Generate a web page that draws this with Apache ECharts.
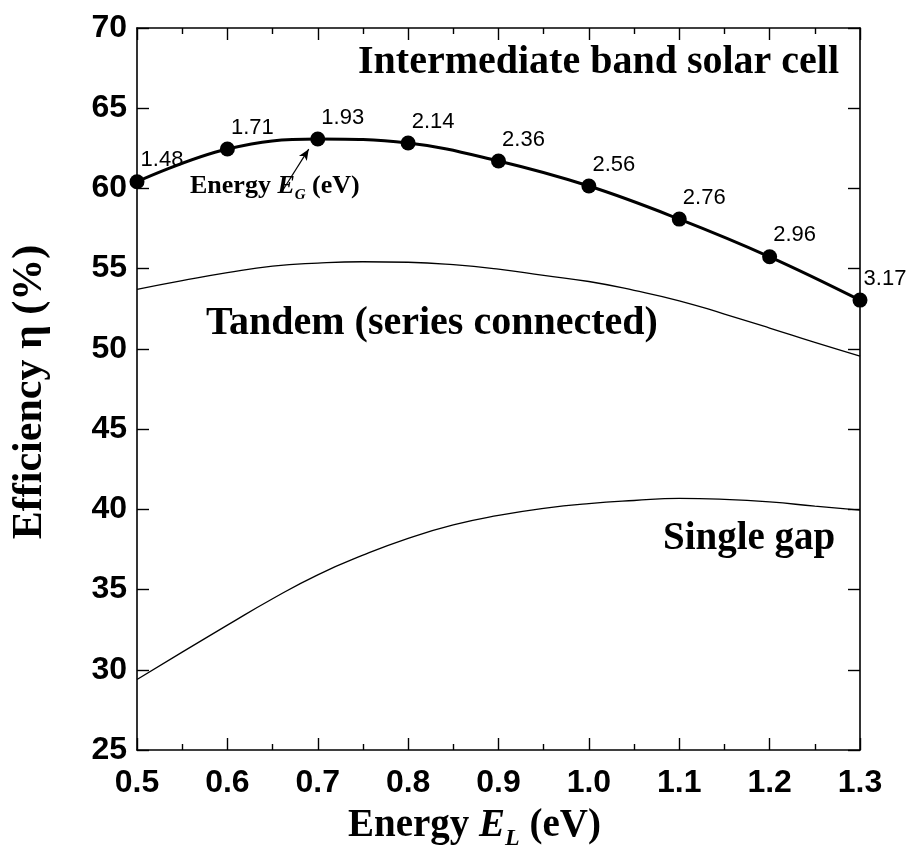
<!DOCTYPE html>
<html>
<head>
<meta charset="utf-8">
<script src="https://cdn.jsdelivr.net/npm/echarts@6/dist/echarts.min.js"></script>
<style>
  html, body { margin: 0; padding: 0; background: #fff; }
  #chart { width: 906px; height: 858px; }
</style>
</head>
<body>
<div id="chart"></div>
<script>
// Intermediate band cell: limiting efficiency vs. the lower transition energy E_L
const ibEnergy = [0.5, 0.6, 0.7, 0.8, 0.9, 1.0, 1.1, 1.2, 1.3];
const ibEfficiency = [60.42, 62.46, 63.08, 62.83, 61.71, 60.15, 58.09, 55.74, 53.04];
// Total band gap E_G (eV) at each point
const ibGapLabels = ['1.48', '1.71', '1.93', '2.14', '2.36', '2.56', '2.76', '2.96', '3.17'];

// Reference curves sampled every 0.05 eV
const curveEnergy = [0.5, 0.55, 0.6, 0.65, 0.7, 0.75, 0.8, 0.85, 0.9, 0.95, 1.0, 1.05, 1.1, 1.15, 1.2, 1.25, 1.3];
const tandemEfficiency = [53.71, 54.25, 54.75, 55.16, 55.35, 55.43, 55.40, 55.25, 54.97, 54.58, 54.2, 53.65, 53.0, 52.17, 51.3, 50.4, 49.55];
const singleGapEfficiency = [29.39, 31.1, 32.78, 34.43, 35.92, 37.14, 38.19, 39.03, 39.62, 40.06, 40.36, 40.55, 40.68, 40.62, 40.46, 40.2, 39.95];

const xTicks = { min: 0.5, max: 1.3, step: 0.1 };
const yTicks = { min: 25, max: 70, step: 5 };

const zip = (xs, ys) => xs.map((x, i) => [x, ys[i]]);

const serif = '"Liberation Serif", "Times New Roman", serif';
const sans = '"Liberation Sans", Arial, sans-serif';

const chart = echarts.init(document.getElementById('chart'), null, { renderer: 'canvas' });

const axisLine = { show: true, lineStyle: { color: '#000', width: 1.6 } };
const majorTick = { show: true, inside: true, length: 12, lineStyle: { color: '#000', width: 1.4 } };
const minorTick = { show: true, splitNumber: 2, length: 6, lineStyle: { color: '#000', width: 1.4 } };

chart.setOption({
  backgroundColor: '#fff',
  animation: false,
  grid: { left: 137, right: 46, top: 28, bottom: 108, containLabel: false },
  xAxis: [
    {
      type: 'value', min: xTicks.min, max: xTicks.max, interval: xTicks.step,
      axisLine: axisLine, axisTick: majorTick, minorTick: minorTick,
      splitLine: { show: false },
      axisLabel: {
        margin: 17, color: '#000', fontFamily: sans, fontWeight: 'bold', fontSize: 32,
        formatter: v => v.toFixed(1)
      }
    },
    {
      type: 'value', position: 'top', min: xTicks.min, max: xTicks.max, interval: xTicks.step,
      axisLine: axisLine, axisTick: majorTick, minorTick: minorTick,
      splitLine: { show: false },
      axisLabel: { show: false }
    }
  ],
  yAxis: [
    {
      type: 'value', min: yTicks.min, max: yTicks.max, interval: yTicks.step,
      axisLine: axisLine, axisTick: majorTick,
      splitLine: { show: false },
      axisLabel: { margin: 10, color: '#000', fontFamily: sans, fontWeight: 'bold', fontSize: 32 }
    },
    {
      type: 'value', position: 'right', min: yTicks.min, max: yTicks.max, interval: yTicks.step,
      axisLine: axisLine, axisTick: majorTick,
      splitLine: { show: false },
      axisLabel: { show: false }
    }
  ],
  series: [
    {
      name: 'Single gap', type: 'line', smooth: 0.5, showSymbol: false, clip: false,
      data: zip(curveEnergy, singleGapEfficiency),
      lineStyle: { color: '#000', width: 1.3 }
    },
    {
      name: 'Tandem', type: 'line', smooth: 0.5, showSymbol: false, clip: false,
      data: zip(curveEnergy, tandemEfficiency),
      lineStyle: { color: '#000', width: 1.3 }
    },
    {
      name: 'Intermediate band', type: 'line', smooth: 0.4, clip: false,
      data: zip(ibEnergy, ibEfficiency),
      symbol: 'circle', symbolSize: 15,
      itemStyle: { color: '#000' },
      lineStyle: { color: '#000', width: 3 },
      label: {
        show: true, position: 'top', distance: 3, offset: [25, 0],
        color: '#000', fontFamily: sans, fontSize: 22,
        formatter: p => ibGapLabels[p.dataIndex]
      },
      markLine: {
        silent: true, animation: false,
        symbol: ['none', 'arrow'], symbolSize: [7, 11],
        label: { show: false },
        lineStyle: { color: '#000', width: 1.2, type: 'solid' },
        data: [[{ coord: [0.6615, 59.9] }, { coord: [0.690, 62.45] }]]
      }
    }
  ],
  graphic: [
    {
      type: 'text', left: 358, top: 43,
      style: { text: 'Intermediate band solar cell', font: 'bold 40px ' + serif, fill: '#000' }
    },
    {
      type: 'text', left: 206, top: 304,
      style: { text: 'Tandem (series connected)', font: 'bold 40px ' + serif, fill: '#000' }
    },
    {
      type: 'text', left: 663, top: 519,
      style: { text: 'Single gap', font: 'bold 39px ' + serif, fill: '#000' }
    },
    {
      type: 'text', left: 190, top: 173,
      style: {
        text: '{n|Energy }{i|E}{s|G}{n| (eV)}',
        rich: {
          n: { fontFamily: serif, fontWeight: 'bold', fontSize: 26, lineHeight: 34, verticalAlign: 'middle', fill: '#000' },
          i: { fontFamily: serif, fontWeight: 'bold', fontStyle: 'italic', fontSize: 26, lineHeight: 34, verticalAlign: 'middle', fill: '#000' },
          s: { fontFamily: serif, fontWeight: 'bold', fontStyle: 'italic', fontSize: 15, lineHeight: 34, verticalAlign: 'bottom', fill: '#000' }
        }
      }
    },
    {
      type: 'text', left: 348, top: 806,
      style: {
        text: '{n|Energy }{i|E}{s|L}{n| (eV)}',
        rich: {
          n: { fontFamily: serif, fontWeight: 'bold', fontSize: 39, lineHeight: 50, verticalAlign: 'middle', fill: '#000' },
          i: { fontFamily: serif, fontWeight: 'bold', fontStyle: 'italic', fontSize: 39, lineHeight: 50, verticalAlign: 'middle', fill: '#000' },
          s: { fontFamily: serif, fontWeight: 'bold', fontStyle: 'italic', fontSize: 24, lineHeight: 50, verticalAlign: 'bottom', fill: '#000' }
        }
      }
    },
    {
      type: 'text', x: 30, y: 392, rotation: Math.PI / 2,
      style: {
        text: 'Efficiency η (%)', font: 'bold 42px ' + serif, fill: '#000',
        align: 'center', verticalAlign: 'middle'
      }
    }
  ]
});
</script>
</body>
</html>
